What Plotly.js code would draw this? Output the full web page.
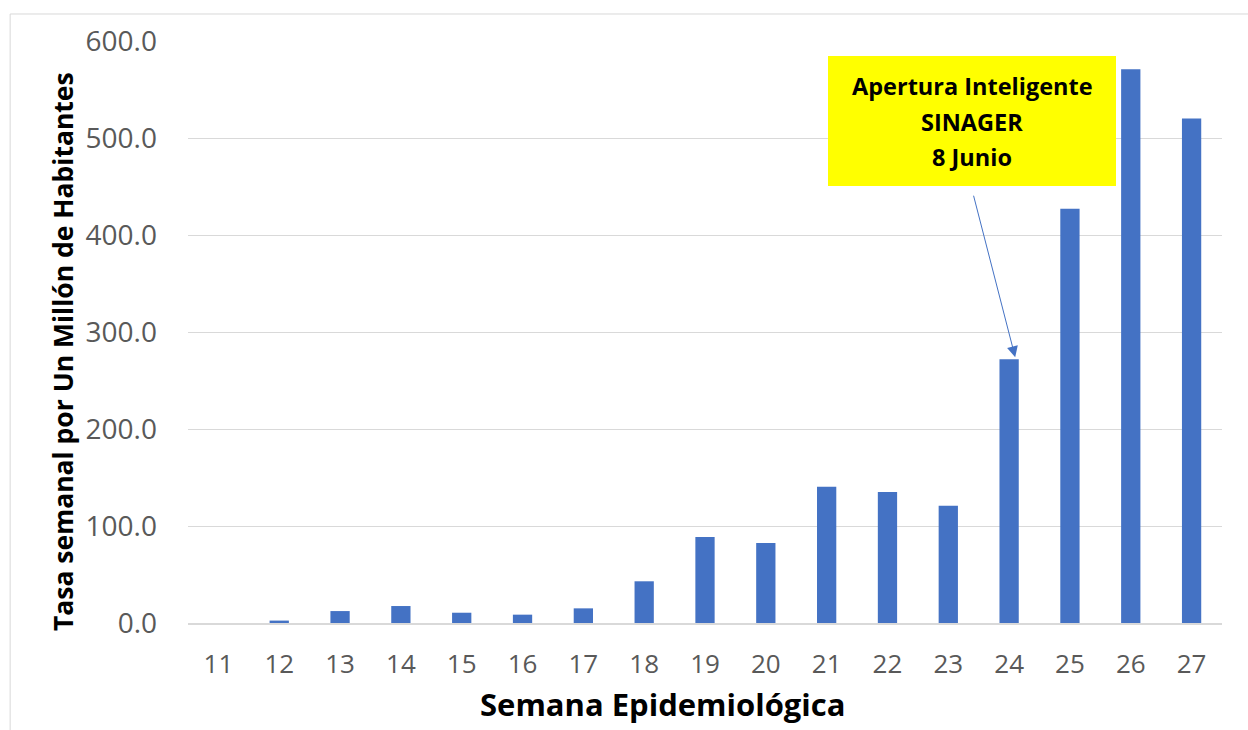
<!DOCTYPE html>
<html>
<head>
<meta charset="utf-8">
<script src="https://cdn.plot.ly/plotly-3.0.1.min.js"></script>
<style>html,body{margin:0;padding:0;background:#fff;}#chart{width:1248px;height:730px;}</style>
</head>
<body>
<div id="chart"></div>
<script>
const semanas = ['11','12','13','14','15','16','17','18','19','20','21','22','23','24','25','26','27'];
const tasaSemanal = [0, 2.5, 12.3, 17.5, 10.6, 8.6, 15.1, 43, 88.7, 82.5, 140.5, 135, 121, 272, 427, 571, 520];
const yTicks = [0, 100, 200, 300, 400, 500, 600];
const yTickLabels = ['0.0','100.0','200.0','300.0','400.0','500.0','600.0'];
const annotLines = ['Apertura Inteligente', 'SINAGER', '8 Junio'];
const xTitle = 'Semana Epidemiológica';
const yTitle = 'Tasa semanal por Un Millón de Habitantes';

const trace = {
  type: 'bar',
  x: semanas,
  y: tasaSemanal,
  marker: {color: '#4472C4'},
  hoverinfo: 'x+y'
};

// plot area: 188..1222 px horizontally, 41..623 px vertically
const plotW = 1034, plotH = 582;
const boxLeft = 828, boxRight = 1116, boxTop = 56, boxBottom = 186;
const px = v => (v - 188) / plotW;
const py = v => (623 - v) / plotH;
const lineCenters = [86, 122, 157];

const annotations = [
  {
    xref: 'paper', yref: 'paper', x: 0.459, y: -0.139,
    xanchor: 'center', yanchor: 'middle', showarrow: false,
    text: '<b>' + xTitle + '</b>',
    font: {size: 31, color: '#000000', family: 'Open Sans, sans-serif'}
  },
  {
    xref: 'paper', yref: 'paper', x: -0.121, y: 0.467,
    xanchor: 'center', yanchor: 'middle', showarrow: false, textangle: -90,
    text: '<b>' + yTitle + '</b>',
    font: {size: 26.5, color: '#000000', family: 'Open Sans, sans-serif'}
  },
  {
    xref: 'x', yref: 'y', x: 13.1, y: tasaSemanal[13] + 2,
    ax: -42, ay: -163, axref: 'pixel', ayref: 'pixel',
    showarrow: true, text: '', arrowhead: 2, arrowsize: 2.2, arrowwidth: 1,
    arrowcolor: '#4472C4'
  }
];
annotLines.forEach((t, i) => {
  annotations.push({
    xref: 'paper', yref: 'paper', x: px((boxLeft + boxRight) / 2), y: py(lineCenters[i]),
    xanchor: 'center', yanchor: 'middle', showarrow: false,
    text: '<b>' + t + '</b>',
    font: {size: 23.5, color: '#000000', family: 'Open Sans, sans-serif'}
  });
});

const layout = {
  width: 1248, height: 730,
  margin: {l: 188, r: 26, t: 41, b: 107},
  paper_bgcolor: '#ffffff', plot_bgcolor: '#ffffff',
  bargap: 0.683,
  showlegend: false,
  font: {family: 'Open Sans, sans-serif', color: '#595959'},
  xaxis: {
    type: 'category',
    showgrid: false,
    showline: true, linecolor: '#d9d9d9', linewidth: 2,
    ticks: '', ticklabelstandoff: 17,
    tickfont: {size: 26, color: '#595959'},
    zeroline: false
  },
  yaxis: {
    range: [0, 600],
    tickvals: yTicks, ticktext: yTickLabels,
    showgrid: true, gridcolor: '#d9d9d9', gridwidth: 1,
    zeroline: false, showline: false,
    ticks: '', ticklabelstandoff: 30,
    tickfont: {size: 28, color: '#595959'}
  },
  annotations: annotations,
  shapes: [
    {type: 'rect', xref: 'paper', yref: 'paper', x0: -0.172, x1: 1.2, y0: -0.4, y1: 1.0464,
     line: {color: '#d9d9d9', width: 1}, fillcolor: 'rgba(0,0,0,0)', layer: 'below'},
    {type: 'rect', xref: 'paper', yref: 'paper', x0: px(boxLeft), x1: px(boxRight), y0: py(boxBottom), y1: py(boxTop),
     line: {width: 0}, fillcolor: '#FFFF00', layer: 'above'}
  ]
};

Plotly.newPlot('chart', [trace], layout, {displayModeBar: false, responsive: false});
</script>
</body>
</html>
